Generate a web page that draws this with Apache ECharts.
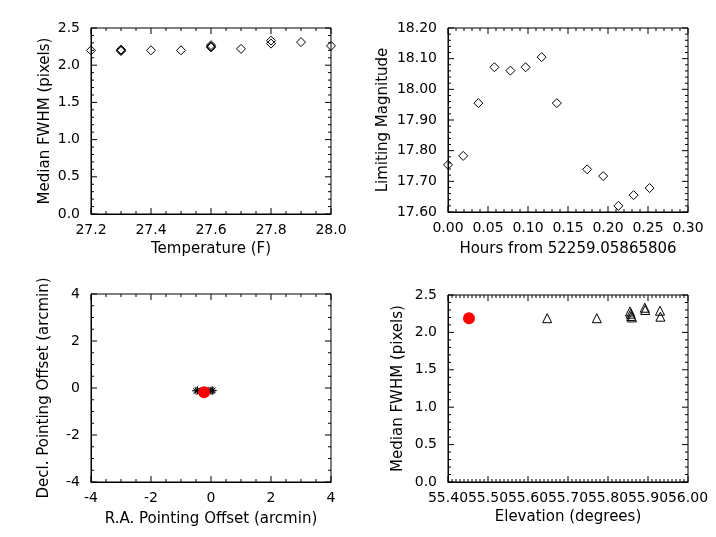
<!DOCTYPE html>
<html>
<head>
<meta charset="utf-8">
<script src="https://cdn.jsdelivr.net/npm/echarts@6/dist/echarts.min.js"></script>
<style>
html,body{margin:0;padding:0;background:#fff;}
#c{width:716px;height:537px;}
</style>
</head>
<body>
<div id="c"></div>
<script>
// Panel 1: Median FWHM vs Temperature
const temperature = [27.2, 27.3, 27.3, 27.3, 27.4, 27.5, 27.6, 27.6, 27.6, 27.7, 27.8, 27.8, 27.9, 28.0];
const fwhmByTemp  = [2.20, 2.20, 2.21, 2.19, 2.20, 2.20, 2.27, 2.24, 2.25, 2.22, 2.33, 2.29, 2.31, 2.26];

// Panel 2: Limiting magnitude vs hours
const hours    = [0.000, 0.019, 0.038, 0.058, 0.078, 0.097, 0.117, 0.136, 0.174, 0.194, 0.213, 0.232, 0.252];
const limitMag = [17.754, 17.783, 17.955, 18.072, 18.061, 18.072, 18.105, 17.955, 17.739, 17.717, 17.620, 17.655, 17.678];

// Panel 3: pointing offsets (arcmin)
const raOffset   = [-0.50, -0.45, -0.30, -0.22, -0.10, 0.00, 0.04, 0.06];
const decOffset  = [-0.12, -0.10, -0.13, -0.15, -0.12, -0.11, -0.12, -0.10];
const raCurrent  = [-0.23];
const decCurrent = [-0.18];

// Panel 4: Median FWHM vs Elevation
const elevation    = [55.648, 55.772, 55.855, 55.857, 55.858, 55.860, 55.892, 55.893, 55.930, 55.931];
const fwhmByElev   = [2.19, 2.19, 2.28, 2.25, 2.22, 2.20, 2.33, 2.30, 2.29, 2.21];
const elevCurrent  = [55.4525];
const fwhmCurrent  = [2.19];

const FONT = 'DejaVu Sans';
const zip = (a, b) => a.map((v, i) => [v, b[i]]);

const boxes = [
  {left: 91,  top: 28,  width: 240, height: 186},
  {left: 448, top: 28,  width: 240, height: 184},
  {left: 91,  top: 294, width: 240, height: 188},
  {left: 448, top: 295, width: 240, height: 187}
];
const grids = boxes.map(b => Object.assign({show: true, borderColor: '#000', borderWidth: 1, backgroundColor: 'rgba(0,0,0,0)'}, b));

const axisCfg = [
  {x: {min: 27.2, max: 28.0, interval: 0.2, minor: 4, fmt: v => v.toFixed(1), name: 'Temperature (F)', gap: 28},
   y: {min: 0, max: 2.5, interval: 0.5, minor: 5, fmt: v => v.toFixed(1), name: 'Median FWHM (pixels)', gap: 38}},
  {x: {min: 0, max: 0.3, interval: 0.05, minor: 5, fmt: v => v.toFixed(2), name: 'Hours from 52259.05865806', gap: 30},
   y: {min: 17.6, max: 18.2, interval: 0.1, minor: 5, fmt: v => v.toFixed(2), name: 'Limiting Magnitude', gap: 57}},
  {x: {min: -4, max: 4, interval: 2, minor: 4, fmt: v => String(Math.round(v)), name: 'R.A. Pointing Offset (arcmin)', gap: 30},
   y: {min: -4, max: 4, interval: 2, minor: 4, fmt: v => String(Math.round(v)), name: 'Decl. Pointing Offset (arcmin)', gap: 39}},
  {x: {min: 55.4, max: 56.0, interval: 0.1, minor: 10, fmt: v => v.toFixed(2), name: 'Elevation (degrees)', gap: 28},
   y: {min: 0, max: 2.5, interval: 0.5, minor: 5, fmt: v => v.toFixed(1), name: 'Median FWHM (pixels)', gap: 42}}
];

function makeAxis(gi, cfg, isX) {
  return {
    type: 'value', gridIndex: gi, min: cfg.min, max: cfg.max, interval: cfg.interval,
    position: isX ? 'bottom' : 'left',
    splitLine: {show: false},
    axisLine: {show: true, onZero: false, lineStyle: {color: '#000', width: 1}},
    axisTick: {show: false},
    axisLabel: {show: true, color: '#000', fontFamily: FONT, fontSize: 14, margin: isX ? 9 : 11,
      formatter: v => cfg.fmt(v)},
    name: cfg.name, nameLocation: 'middle', nameGap: cfg.gap,
    nameTextStyle: {color: '#000', fontFamily: FONT, fontSize: 15}
  };
}
const xAxes = axisCfg.map((c, i) => makeAxis(i, c.x, true));
const yAxes = axisCfg.map((c, i) => makeAxis(i, c.y, false));

// Inward box ticks (major + minor) on all four sides, placed through the axes' scales
function tickSeries(pi) {
  const xc = axisCfg[pi].x, yc = axisCfg[pi].y;
  const seg = (a, b, c, d) => ({type: 'line', shape: {x1: a, y1: b, x2: c, y2: d}, style: {stroke: '#000', lineWidth: 1}});
  return {
    type: 'custom', xAxisIndex: pi, yAxisIndex: pi, silent: true, z: 3, clip: false,
    data: [[xc.min, yc.min]],
    renderItem: (params, api) => {
      const children = [];
      const bl = api.coord([xc.min, yc.min]);
      const tr = api.coord([xc.max, yc.max]);
      const stepX = xc.interval / xc.minor;
      const nX = Math.round((xc.max - xc.min) / stepX);
      for (let k = 0; k <= nX; k++) {
        const len = k % xc.minor === 0 ? 6 : 3;
        const px = api.coord([xc.min + k * stepX, yc.min])[0];
        children.push(seg(px, bl[1], px, bl[1] - len));
        children.push(seg(px, tr[1], px, tr[1] + len));
      }
      const stepY = yc.interval / yc.minor;
      const nY = Math.round((yc.max - yc.min) / stepY);
      for (let k = 0; k <= nY; k++) {
        const len = k % yc.minor === 0 ? 6 : 3;
        const py = api.coord([xc.min, yc.min + k * stepY])[1];
        children.push(seg(bl[0], py, bl[0] + len, py));
        children.push(seg(tr[0], py, tr[0] - len, py));
      }
      return {type: 'group', children: children};
    }
  };
}

const openStyle = () => ({color: 'rgba(0,0,0,0)', borderColor: '#000', borderWidth: 1, opacity: 1});
const asterisk = 'path://M0,-1L0,1M-1,0L1,0M-0.7,-0.7L0.7,0.7M-0.7,0.7L0.7,-0.7';

const series = [
  {type: 'scatter', xAxisIndex: 0, yAxisIndex: 0, data: zip(temperature, fwhmByTemp),
   symbol: 'diamond', symbolSize: 9, itemStyle: openStyle()},
  {type: 'scatter', xAxisIndex: 1, yAxisIndex: 1, data: zip(hours, limitMag),
   symbol: 'diamond', symbolSize: 9, itemStyle: openStyle()},
  {type: 'scatter', xAxisIndex: 2, yAxisIndex: 2, data: zip(raOffset, decOffset),
   symbol: asterisk, symbolSize: 8, itemStyle: openStyle()},
  {type: 'scatter', xAxisIndex: 2, yAxisIndex: 2, data: zip(raCurrent, decCurrent),
   symbol: 'circle', symbolSize: 12, itemStyle: {color: '#ff0000', opacity: 1}},
  {type: 'scatter', xAxisIndex: 3, yAxisIndex: 3, data: zip(elevation, fwhmByElev),
   symbol: 'triangle', symbolSize: 9, itemStyle: openStyle()},
  {type: 'scatter', xAxisIndex: 3, yAxisIndex: 3, data: zip(elevCurrent, fwhmCurrent),
   symbol: 'circle', symbolSize: 12, itemStyle: {color: '#ff0000', opacity: 1}},
  tickSeries(0), tickSeries(1), tickSeries(2), tickSeries(3)
];

const chart = echarts.init(document.getElementById('c'), null, {renderer: 'canvas'});
chart.setOption({
  backgroundColor: '#fff',
  animation: false,
  grid: grids,
  xAxis: xAxes,
  yAxis: yAxes,
  series: series
});
</script>
</body>
</html>
